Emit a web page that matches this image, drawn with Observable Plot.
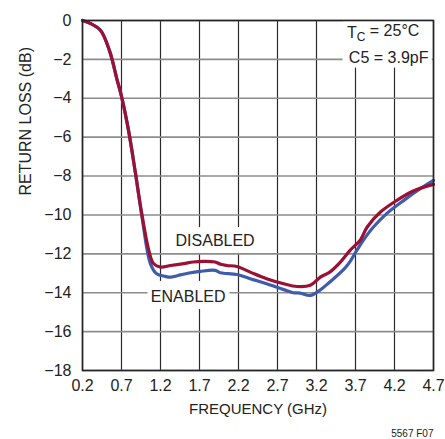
<!DOCTYPE html>
<html>
<head>
<meta charset="utf-8">
<script src="https://cdn.jsdelivr.net/npm/d3@7"></script>
<script src="https://cdn.jsdelivr.net/npm/@observablehq/plot@0.6"></script>
<style>
  html, body { margin: 0; padding: 0; background: #fff; }
</style>
</head>
<body>
<div id="chart"></div>
<script>
// Data
const xTicks = [0.2, 0.7, 1.2, 1.7, 2.2, 2.7, 3.2, 3.7, 4.2, 4.7];
const yTicks = [-18, -16, -14, -12, -10, -8, -6, -4, -2, 0];

const freqDisabled = [0.2, 0.3, 0.43, 0.55, 0.64, 0.7, 0.79, 0.88, 0.96, 1.05, 1.11, 1.2, 1.33, 1.5, 1.62, 1.75, 1.9, 1.97, 2.05, 2.18, 2.35, 2.56, 2.78, 2.95, 3.12, 3.25, 3.37, 3.5, 3.63, 3.76, 3.85, 4.02, 4.23, 4.44, 4.7];
const lossDisabled = [0, -0.15, -0.5, -1.6, -3.0, -3.9, -5.65, -7.87, -9.93, -11.82, -12.5, -12.68, -12.6, -12.5, -12.42, -12.39, -12.42, -12.54, -12.6, -12.65, -12.94, -13.28, -13.54, -13.68, -13.62, -13.2, -12.94, -12.45, -11.82, -11.3, -10.62, -9.85, -9.25, -8.77, -8.43];

const freqEnabled = [0.2, 0.3, 0.43, 0.55, 0.64, 0.7, 0.79, 0.88, 0.97, 1.07, 1.15, 1.26, 1.33, 1.47, 1.55, 1.71, 1.9, 1.97, 2.18, 2.35, 2.56, 2.78, 2.9, 2.99, 3.12, 3.25, 3.37, 3.55, 3.63, 3.72, 3.8, 3.93, 4.1, 4.32, 4.53, 4.7];
const lossEnabled = [0, -0.15, -0.5, -1.6, -3.0, -3.9, -5.65, -7.9, -10.3, -12.5, -13.02, -13.16, -13.2, -13.07, -13.0, -12.9, -12.85, -12.97, -13.06, -13.28, -13.54, -13.84, -14.0, -14.02, -14.14, -13.85, -13.45, -12.8, -12.4, -11.8, -11.3, -10.62, -9.93, -9.25, -8.65, -8.22];

const seriesNames = ["ENABLED", "DISABLED"];
const seriesColors = ["#3f5bab", "#9b1034"];

// Annotation labels (data coordinates)
const labelText = ["DISABLED", "ENABLED"];
const labelX = [1.9, 1.555];
const labelY = [-11.35, -14.2];
const boxX1 = [1.36, 1.04];
const boxX2 = [2.46, 2.09];
const boxY1 = [-10.65, -13.42];
const boxY2 = [-11.98, -14.86];

const noteBox = {x1: 3.54, x2: 4.685, y1: -0.02, y2: -2.45};
const noteLines = ["T_C = 25°C", "C5 = 3.9pF"];
const noteX = [3.59, 3.615];
const noteY = [-0.62, -1.9];

const disabled = freqDisabled.map((f, i) => ({f, db: lossDisabled[i]}));
const enabled = freqEnabled.map((f, i) => ({f, db: lossEnabled[i]}));
const labels = labelText.map((t, i) => ({t, x: labelX[i], y: labelY[i]}));
const boxes = labelText.map((t, i) => ({x1: boxX1[i], x2: boxX2[i], y1: boxY1[i], y2: boxY2[i]})).concat([noteBox]);
const notes = noteLines.map((t, i) => ({t, x: noteX[i], y: noteY[i]}));

const font = "'Liberation Sans Narrow', 'Liberation Sans', Arial, sans-serif";

const chart = Plot.plot({
  width: 445,
  height: 439,
  marginLeft: 82,
  marginRight: 12,
  marginTop: 20,
  marginBottom: 69,
  style: {fontFamily: font, fontSize: "16px", color: "#222", background: "#fff"},
  x: {domain: [0.2, 4.7]},
  y: {domain: [-18, 0]},
  marks: [
    Plot.gridX(xTicks, {stroke: "#2a2a2a", strokeOpacity: 1, strokeWidth: 1.2}),
    Plot.gridY(yTicks, {stroke: "#8c8c8c", strokeOpacity: 1, strokeWidth: 1.6}),
    Plot.rect(boxes, {x1: "x1", x2: "x2", y1: "y1", y2: "y2", fill: "#fff"}),
    Plot.line(enabled, {x: "f", y: "db", stroke: seriesColors[0], strokeWidth: 3.2, curve: "catmull-rom"}),
    Plot.line(disabled, {x: "f", y: "db", stroke: seriesColors[1], strokeWidth: 3.2, curve: "catmull-rom"}),
    Plot.text(labels, {x: "x", y: "y", text: "t", fontSize: 16, fill: "#222"}),
    Plot.text(notes, {x: "x", y: "y", text: "t", fontSize: 16, fill: "#222", textAnchor: "start", className: "note"}),
    Plot.frame({stroke: "#222", strokeWidth: 1.6}),
    Plot.axisX(xTicks, {tickSize: 0, tickPadding: 9, tickFormat: d3.format(".1f"), label: null, fontSize: 16, fill: "#222"}),
    Plot.axisY(yTicks, {tickSize: 0, tickPadding: 11, tickFormat: d3.format("d"), label: null, fontSize: 16, fill: "#222"}),
    Plot.text(["FREQUENCY (GHz)"], {frameAnchor: "bottom", dy: 43, fontSize: 15, fill: "#222"}),
    Plot.text(["RETURN LOSS (dB)"], {frameAnchor: "left", dx: -57, rotate: -90, fontSize: 16, fill: "#222"}),
    Plot.text(["5567 F07"], {frameAnchor: "bottom-right", dy: 66, dx: 0, textAnchor: "end", fontSize: 10, fill: "#222"})
  ]
});

// subscript C in T_C
d3.select(chart).selectAll("g.note text").each(function() {
  const el = d3.select(this);
  if (el.text().startsWith("T_C")) {
    const rest = el.text().slice(3);
    el.text(null);
    el.append("tspan").text("T");
    el.append("tspan").attr("dy", "0.3em").attr("font-size", "12px").text("C");
    el.append("tspan").attr("dy", "-0.3em").text(rest);
  }
});

document.getElementById("chart").appendChild(chart);
</script>
</body>
</html>
